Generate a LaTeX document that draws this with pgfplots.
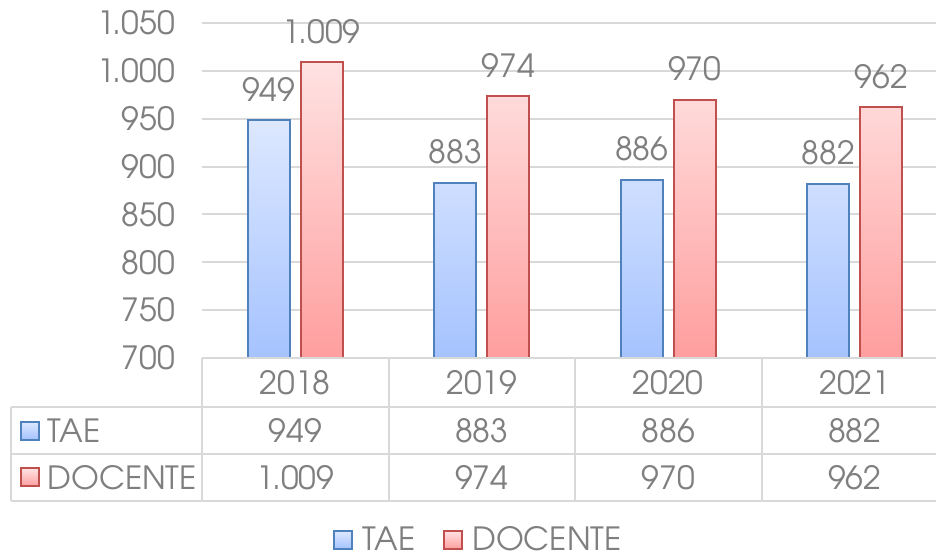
\documentclass[border=0pt]{standalone}
\usepackage{pgfplots}
\pgfplotsset{compat=1.18}
\usepackage{fontspec}
\setmainfont{TeX Gyre Adventor}
\definecolor{txt}{HTML}{7F7F7F}
\definecolor{gridc}{HTML}{D9D9D9}
\definecolor{blueB}{HTML}{4F81BD}
\definecolor{blueT}{HTML}{DDE8FF}
\definecolor{blueL}{HTML}{A5C3FF}
\definecolor{redB}{HTML}{C0504D}
\definecolor{redT}{HTML}{FFE2E2}
\definecolor{redL}{HTML}{FF9E9E}
\newcommand{\lf}{\fontsize{16}{19}\selectfont}
\begin{document}
\begin{tikzpicture}
\useasboundingbox (-101pt,-98pt) rectangle (367pt,179pt);
\begin{axis}[
  at={(0pt,0pt)}, anchor=south west,
  scale only axis, width=367pt, height=167.5pt,
  xmin=-0.5, xmax=3.4357, ymin=700, ymax=1050,
  ytick={700,750,...,1050},
  xtick={0,1,2,3}, xticklabels={2018,2019,2020,2021},
  axis line style={draw=none},
  major tick length=0pt,
  ymajorgrids, grid style={gridc, line width=1pt},
  scaled y ticks=false,
  /pgf/number format/1000 sep={.},
  /pgf/number format/assume math mode=true,
  tick label style={font=\lf, text=txt},
  yticklabel style={xshift=-10pt},
  xticklabel style={anchor=center, yshift=-12.25pt},
  legend columns=2,
  legend style={at={(0.3781,-0.543)}, anchor=center, draw=none, fill=none,
    font=\lf, text=txt, inner sep=1pt,
    /tikz/every odd column/.append style={column sep=2.5pt},
    /tikz/every even column/.append style={column sep=12pt}},
  legend image code/.code={\draw[#1] (0pt,-4.5pt) rectangle (9pt,4.5pt);},
]
\addplot[ybar, bar width=21pt, bar shift=-13.25pt, draw=blueB, line width=1pt,
  top color=blueT, bottom color=blueL,
  nodes near coords,
  every node near coord/.append style={font=\lf, text=txt, anchor=south, xshift=-13.25pt, yshift=5.5pt}]
  coordinates {(0,949) (1,883) (2,886) (3,882)};
\addlegendentry{TAE}
\addplot[ybar, bar width=21pt, bar shift=13.25pt, draw=redB, line width=1pt,
  top color=redT, bottom color=redL,
  nodes near coords,
  every node near coord/.append style={font=\lf, text=txt, anchor=south, xshift=13.25pt, yshift=5.5pt}]
  coordinates {(0,1009) (1,974) (2,970) (3,962)};
\addlegendentry{DOCENTE}
% data table rows
\addplot[draw=none, mark=none, forget plot, point meta=explicit,
  nodes near coords,
  every node near coord/.append style={font=\lf, text=txt, anchor=center, yshift=-36.25pt}]
  coordinates {(0,700) [949] (1,700) [883] (2,700) [886] (3,700) [882]};
\addplot[draw=none, mark=none, forget plot, point meta=explicit,
  nodes near coords,
  every node near coord/.append style={font=\lf, text=txt, anchor=center, yshift=-59.7pt}]
  coordinates {(0,700) [1009] (1,700) [974] (2,700) [970] (3,700) [962]};
\end{axis}
% table grid
\begin{scope}[gridc, line width=1pt]
\draw (0pt,0pt) -- (367pt,0pt);
\draw (-95.65pt,-24.5pt) -- (367pt,-24.5pt);
\draw (-95.65pt,-48pt) -- (367pt,-48pt);
\draw (-95.65pt,-71.35pt) -- (367pt,-71.35pt);
\draw (-95.65pt,-24.5pt) -- (-95.65pt,-71.35pt);
\foreach \x in {0,93.25,186.5,279.75} \draw (\x pt,0pt) -- (\x pt,-71.35pt);
\end{scope}
\draw[blueB, line width=1pt, top color=blueT, bottom color=blueL] (-90.5pt,-40.75pt) rectangle (-81.5pt,-31.75pt);
\node[anchor=west, inner sep=0pt, font=\lf, text=txt] at (-77.5pt,-36.25pt) {TAE};
\draw[redB, line width=1pt, top color=redT, bottom color=redL] (-90.5pt,-64.2pt) rectangle (-81.5pt,-55.2pt);
\node[anchor=west, inner sep=0pt, font=\lf, text=txt] at (-77.5pt,-59.7pt) {DOCENTE};
\end{tikzpicture}
\end{document}
